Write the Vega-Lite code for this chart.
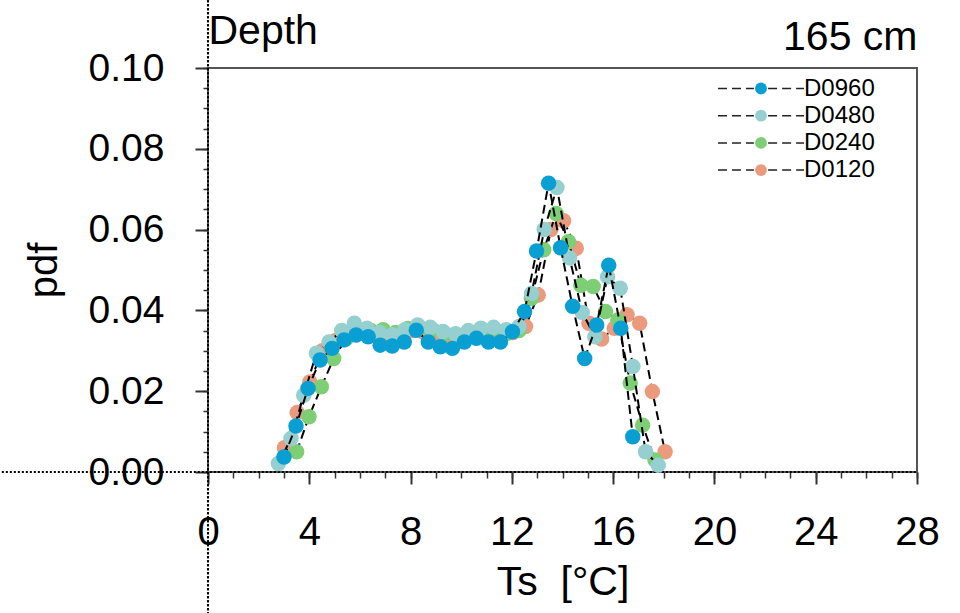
{
"$schema": "https://vega.github.io/schema/vega-lite/v6.json",
"width": 709, "height": 404,
"autosize": {"type": "none"},
"padding": {"left": 208, "top": 68, "right": 43, "bottom": 141},
"background": "white",
"config": {"view": {"stroke": "#555", "strokeWidth": 2}, "font": "Liberation Sans", "axis": {"grid": false, "labelColor": "black", "titleColor": "black", "titleFontWeight": "normal"}},
"datasets": {
"pdfs": [
{"series":"D0960","t":3.0,"pdf":0.0037},{"series":"D0960","t":3.475,"pdf":0.0114},{"series":"D0960","t":3.95,"pdf":0.0207},{"series":"D0960","t":4.425,"pdf":0.0277},{"series":"D0960","t":4.9,"pdf":0.0306},{"series":"D0960","t":5.375,"pdf":0.0327},{"series":"D0960","t":5.85,"pdf":0.0339},{"series":"D0960","t":6.325,"pdf":0.0335},{"series":"D0960","t":6.8,"pdf":0.0314},{"series":"D0960","t":7.275,"pdf":0.0312},{"series":"D0960","t":7.75,"pdf":0.0322},{"series":"D0960","t":8.225,"pdf":0.0351},{"series":"D0960","t":8.7,"pdf":0.0322},{"series":"D0960","t":9.175,"pdf":0.031},{"series":"D0960","t":9.65,"pdf":0.0306},{"series":"D0960","t":10.125,"pdf":0.0322},{"series":"D0960","t":10.6,"pdf":0.0331},{"series":"D0960","t":11.075,"pdf":0.0322},{"series":"D0960","t":11.55,"pdf":0.0322},{"series":"D0960","t":12.025,"pdf":0.0347},{"series":"D0960","t":12.5,"pdf":0.0397},{"series":"D0960","t":12.975,"pdf":0.0547},{"series":"D0960","t":13.45,"pdf":0.0715},{"series":"D0960","t":13.925,"pdf":0.0555},{"series":"D0960","t":14.4,"pdf":0.041},{"series":"D0960","t":14.875,"pdf":0.0281},{"series":"D0960","t":15.35,"pdf":0.0364},{"series":"D0960","t":15.825,"pdf":0.0512},{"series":"D0960","t":16.3,"pdf":0.0356},{"series":"D0960","t":16.775,"pdf":0.0087},
{"series":"D0480","t":2.78,"pdf":0.0021},{"series":"D0480","t":3.28,"pdf":0.0083},{"series":"D0480","t":3.78,"pdf":0.019},{"series":"D0480","t":4.28,"pdf":0.0294},{"series":"D0480","t":4.78,"pdf":0.0322},{"series":"D0480","t":5.28,"pdf":0.035},{"series":"D0480","t":5.78,"pdf":0.0368},{"series":"D0480","t":6.28,"pdf":0.0356},{"series":"D0480","t":6.78,"pdf":0.0345},{"series":"D0480","t":7.28,"pdf":0.034},{"series":"D0480","t":7.78,"pdf":0.0352},{"series":"D0480","t":8.28,"pdf":0.0364},{"series":"D0480","t":8.78,"pdf":0.0358},{"series":"D0480","t":9.28,"pdf":0.0348},{"series":"D0480","t":9.78,"pdf":0.0342},{"series":"D0480","t":10.28,"pdf":0.035},{"series":"D0480","t":10.78,"pdf":0.0356},{"series":"D0480","t":11.28,"pdf":0.0358},{"series":"D0480","t":11.78,"pdf":0.0352},{"series":"D0480","t":12.28,"pdf":0.036},{"series":"D0480","t":12.78,"pdf":0.0442},{"series":"D0480","t":13.28,"pdf":0.06},{"series":"D0480","t":13.78,"pdf":0.0704},{"series":"D0480","t":14.28,"pdf":0.053},{"series":"D0480","t":14.78,"pdf":0.0395},{"series":"D0480","t":15.28,"pdf":0.0335},{"series":"D0480","t":15.78,"pdf":0.0483},{"series":"D0480","t":16.28,"pdf":0.0455},{"series":"D0480","t":16.78,"pdf":0.0261},{"series":"D0480","t":17.28,"pdf":0.005},{"series":"D0480","t":17.78,"pdf":0.0017},
{"series":"D0240","t":3.5,"pdf":0.005},{"series":"D0240","t":3.988,"pdf":0.0137},{"series":"D0240","t":4.476,"pdf":0.0211},{"series":"D0240","t":4.964,"pdf":0.0281},{"series":"D0240","t":5.452,"pdf":0.033},{"series":"D0240","t":5.94,"pdf":0.0345},{"series":"D0240","t":6.428,"pdf":0.035},{"series":"D0240","t":6.916,"pdf":0.0352},{"series":"D0240","t":7.404,"pdf":0.0345},{"series":"D0240","t":7.892,"pdf":0.0355},{"series":"D0240","t":8.38,"pdf":0.0357},{"series":"D0240","t":8.868,"pdf":0.0352},{"series":"D0240","t":9.356,"pdf":0.0343},{"series":"D0240","t":9.844,"pdf":0.0338},{"series":"D0240","t":10.332,"pdf":0.0342},{"series":"D0240","t":10.82,"pdf":0.0348},{"series":"D0240","t":11.308,"pdf":0.0345},{"series":"D0240","t":11.796,"pdf":0.0343},{"series":"D0240","t":12.284,"pdf":0.035},{"series":"D0240","t":12.772,"pdf":0.043},{"series":"D0240","t":13.26,"pdf":0.055},{"series":"D0240","t":13.748,"pdf":0.064},{"series":"D0240","t":14.236,"pdf":0.057},{"series":"D0240","t":14.724,"pdf":0.0462},{"series":"D0240","t":15.212,"pdf":0.0459},{"series":"D0240","t":15.7,"pdf":0.0397},{"series":"D0240","t":16.188,"pdf":0.0376},{"series":"D0240","t":16.676,"pdf":0.022},{"series":"D0240","t":17.164,"pdf":0.0116},{"series":"D0240","t":17.652,"pdf":0.003},
{"series":"D0120","t":3.02,"pdf":0.006},{"series":"D0120","t":3.521,"pdf":0.0147},{"series":"D0120","t":4.022,"pdf":0.0223},{"series":"D0120","t":4.523,"pdf":0.03},{"series":"D0120","t":5.024,"pdf":0.0325},{"series":"D0120","t":5.525,"pdf":0.034},{"series":"D0120","t":6.026,"pdf":0.0345},{"series":"D0120","t":6.527,"pdf":0.034},{"series":"D0120","t":7.028,"pdf":0.0335},{"series":"D0120","t":7.529,"pdf":0.034},{"series":"D0120","t":8.03,"pdf":0.035},{"series":"D0120","t":8.531,"pdf":0.0345},{"series":"D0120","t":9.032,"pdf":0.034},{"series":"D0120","t":9.533,"pdf":0.0332},{"series":"D0120","t":10.034,"pdf":0.0325},{"series":"D0120","t":10.535,"pdf":0.034},{"series":"D0120","t":11.036,"pdf":0.0338},{"series":"D0120","t":11.537,"pdf":0.034},{"series":"D0120","t":12.038,"pdf":0.0345},{"series":"D0120","t":12.539,"pdf":0.036},{"series":"D0120","t":13.04,"pdf":0.0438},{"series":"D0120","t":13.541,"pdf":0.06},{"series":"D0120","t":14.042,"pdf":0.0622},{"series":"D0120","t":14.543,"pdf":0.0554},{"series":"D0120","t":15.044,"pdf":0.0368},{"series":"D0120","t":15.545,"pdf":0.0329},{"series":"D0120","t":16.046,"pdf":0.0356},{"series":"D0120","t":16.547,"pdf":0.0389},{"series":"D0120","t":17.048,"pdf":0.0368},{"series":"D0120","t":17.549,"pdf":0.0199},{"series":"D0120","t":18.05,"pdf":0.005}
]
},
"layer": [
{
 "data": {"values": [{}]},
 "mark": {"type": "rule", "strokeDash": [2, 2], "strokeWidth": 2, "color": "black", "clip": false},
 "encoding": {
  "x": {"datum": 0, "type": "quantitative", "scale": {"domain": [0, 28], "nice": false, "zero": false},
        "axis": {"orient": "bottom", "values": [0,1,2,3,4,5,6,7,8,9,10,11,12,13,14,15,16,17,18,19,20,21,22,23,24,25,26,27,28], "labels": false, "domain": false, "ticks": true, "tickSize": 6, "tickWidth": 1.5, "tickColor": "#333", "title": null}},
  "y": {"datum": -0.0352, "type": "quantitative", "scale": {"domain": [0, 0.1], "nice": false, "zero": false},
        "axis": {"orient": "left", "values": [0,0.005,0.01,0.015,0.02,0.025,0.03,0.035,0.04,0.045,0.05,0.055,0.06,0.065,0.07,0.075,0.08,0.085,0.09,0.095,0.1], "labels": false, "domain": false, "ticks": true, "tickSize": 5, "tickWidth": 1.5, "tickColor": "#333", "title": null}},
  "y2": {"datum": 0.1172}
 }
},
{
 "data": {"values": [{}]},
 "mark": {"type": "rule", "strokeDash": [2, 2], "strokeWidth": 2, "color": "black", "clip": false},
 "encoding": {
  "x": {"datum": -8.3, "type": "quantitative", "scale": {"domain": [0, 28], "nice": false, "zero": false},
        "axis": {"orient": "top", "labels": false, "ticks": false, "domain": false, "title": "Depth", "titleAnchor": "start", "titleAlign": "left", "titleFontSize": 41, "titlePadding": 16}},
  "x2": {"datum": 28},
  "y": {"datum": 0, "type": "quantitative", "scale": {"domain": [0, 0.1], "nice": false, "zero": false}, "axis": null}
 }
},
{
 "data": {"values": [{}]},
 "mark": {"type": "rule", "strokeDash": [2, 2], "strokeWidth": 2, "color": "black", "clip": false},
 "encoding": {
  "x": {"datum": 0, "type": "quantitative", "scale": {"domain": [0, 28], "nice": false, "zero": false},
        "axis": {"orient": "top", "labels": false, "ticks": false, "domain": false, "title": "165 cm", "titleAnchor": "end", "titleAlign": "right", "titleFontSize": 41, "titlePadding": 10}},
  "y": {"datum": -0.0352, "type": "quantitative", "scale": {"domain": [0, 0.1], "nice": false, "zero": false}, "axis": null},
  "y2": {"datum": 0.1172}
 }
},
{
 "data": {"name": "pdfs"},
 "encoding": {
  "x": {"field": "t", "type": "quantitative", "scale": {"domain": [0, 28], "nice": false, "zero": false},
        "axis": {"orient": "bottom", "values": [0,4,8,12,16,20,24,28], "labelFlush": false, "labelOverlap": false, "domain": false, "tickSize": 12, "tickWidth": 2, "tickColor": "#333", "labelFontSize": 40, "labelPadding": 28, "title": "Ts \u00a0[°C]", "titleFontSize": 41, "titlePadding": 10}},
  "y": {"field": "pdf", "type": "quantitative", "scale": {"domain": [0, 0.1], "nice": false, "zero": false},
        "axis": {"orient": "left", "values": [0,0.02,0.04,0.06,0.08,0.1], "format": ".2f", "labelFlush": false, "labelOverlap": false, "domain": false, "tickSize": 13, "tickWidth": 2, "tickColor": "#333", "labelFontSize": 39, "labelPadding": 31, "title": "pdf", "titleFontSize": 40, "titlePadding": 24}},
  "color": {"field": "series", "type": "nominal",
            "scale": {"domain": ["D0960", "D0480", "D0240", "D0120"], "range": ["#0a9fd3", "#96cfd0", "#7dce74", "#ec9a7d"]},
            "legend": {"orient": "none", "legendX": 541, "legendY": 8.5, "title": null, "symbolType": "circle", "symbolSize": 140, "symbolStrokeWidth": 0, "labelFontSize": 24, "labelOffset": 31, "labelColor": "black", "rowPadding": 3.2, "padding": 0, "zindex": 1}},
  "strokeDash": {"field": "series", "type": "nominal",
            "scale": {"range": [[9, 5], [9, 5], [9, 5], [9, 5]]},
            "legend": {"orient": "none", "legendX": 541, "legendY": 8.5, "title": null, "symbolType": "M-7.27,0H-1.2M1.2,0H7.27", "symbolSize": 140, "symbolStrokeColor": "#222", "symbolStrokeWidth": 1.5, "symbolFillColor": "transparent", "symbolDash": [10, 5], "labelFontSize": 24, "labelOffset": 31, "labelExpr": "''", "rowPadding": 3.2, "padding": 0, "zindex": 0}}
 },
 "layer": [
  {"transform": [{"filter": "datum.series === 'D0120'"}], "mark": {"type": "line", "strokeWidth": 2, "clip": false}, "encoding": {"color": {"value": "black"}}},
  {"transform": [{"filter": "datum.series === 'D0120'"}], "mark": {"type": "point", "filled": true, "size": 240, "opacity": 1, "strokeWidth": 0}},
  {"transform": [{"filter": "datum.series === 'D0240'"}], "mark": {"type": "line", "strokeWidth": 2, "clip": false}, "encoding": {"color": {"value": "black"}}},
  {"transform": [{"filter": "datum.series === 'D0240'"}], "mark": {"type": "point", "filled": true, "size": 240, "opacity": 1, "strokeWidth": 0}},
  {"transform": [{"filter": "datum.series === 'D0480'"}], "mark": {"type": "line", "strokeWidth": 2, "clip": false}, "encoding": {"color": {"value": "black"}}},
  {"transform": [{"filter": "datum.series === 'D0480'"}], "mark": {"type": "point", "filled": true, "size": 240, "opacity": 1, "strokeWidth": 0}},
  {"transform": [{"filter": "datum.series === 'D0960'"}], "mark": {"type": "line", "strokeWidth": 2, "clip": false}, "encoding": {"color": {"value": "black"}}},
  {"transform": [{"filter": "datum.series === 'D0960'"}], "mark": {"type": "point", "filled": true, "size": 240, "opacity": 1, "strokeWidth": 0}}
 ]
}
],
"resolve": {"axis": {"x": "independent", "y": "independent"}}
}
